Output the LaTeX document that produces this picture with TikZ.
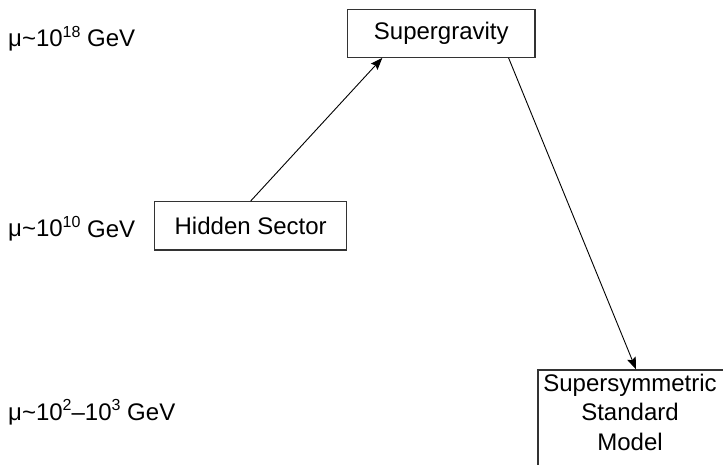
\documentclass[tikz,border=0pt]{standalone}
\usepackage{fontspec}
\setmainfont{Liberation Sans}
\usetikzlibrary{arrows.meta}
\newcommand\supx[1]{\raisebox{0.4em}{\fontsize{16}{16}\selectfont #1}}
\tikzset{
  box/.style={draw=black!80, line width=1.3pt, inner sep=0pt},
  arr/.style={draw=black, line width=0.9pt, -{Stealth[length=12pt,width=9pt,inset=2pt]}},
  lbl/.style={anchor=base west, inner sep=0pt},
}
\begin{document}
\begin{tikzpicture}[x=1pt,y=1pt,font=\fontsize{24}{29}\selectfont]
\clip (0,0) rectangle (723,464);
\fill[white] (0,0) rectangle (723,464);
% boxes
\node[box, minimum width=187.3pt, minimum height=47.6pt] (sg) at (441.3,430.5) {Supergravity};
\node[box, minimum width=192pt, minimum height=48.3pt] (hs) at (250.7,238.2) {Hidden Sector};
\node[box, minimum width=186pt, minimum height=100pt] (ssm) at (631,44) {};
\node[anchor=base, inner sep=0pt] (ssm1) at (630,73) {Supersymmetric};
\node[anchor=base, inner sep=0pt] (ssm2) at (630,43.5) {Standard};
\node[anchor=base, inner sep=0pt] (ssm3) at (630,14) {Model};
% energy labels
\node[lbl] (l1) at (8,417) {μ\textasciitilde10\supx{18} GeV};
\node[lbl] (l2) at (8,227) {μ\textasciitilde10\supx{10} GeV};
\node[lbl] (l3) at (8,44) {μ\textasciitilde10\supx{2}–10\supx{3} GeV};
% arrows
\draw[arr] (hs.north) -- ([xshift=35.3pt]sg.south west);
\draw[arr] ([xshift=-27pt]sg.south east) -- ([xshift=5pt]ssm.north);
\end{tikzpicture}
\end{document}
